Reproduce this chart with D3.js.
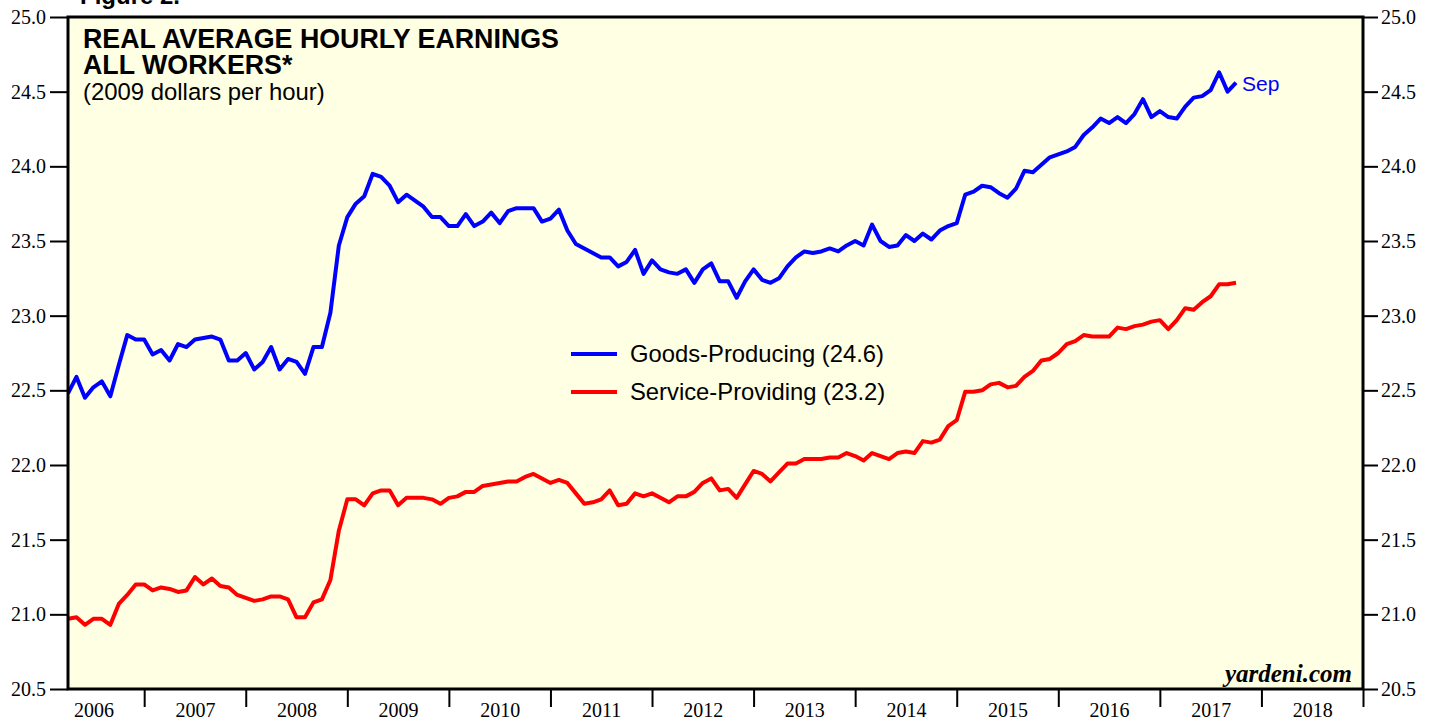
<!DOCTYPE html>
<html>
<head>
<meta charset="utf-8">
<script src="https://cdn.jsdelivr.net/npm/d3@7"></script>
<style>
  html, body { margin: 0; padding: 0; background: #ffffff; }
  svg { display: block; }
</style>
</head>
<body>
<svg id="chart" width="1441" height="721"></svg>
<script>
// ---------------- DATA ----------------
// Monthly series, first observation March 2006, last September 2017
const startYear = 2006;
const startMonth = 3; // March
const goodsProducing = [
  22.48, 22.59, 22.45, 22.52, 22.56, 22.46, 22.67, 22.87, 22.84, 22.84,
  22.74, 22.77, 22.70, 22.81, 22.79, 22.84, 22.85, 22.86, 22.84, 22.70,
  22.70, 22.75, 22.64, 22.69, 22.79, 22.64, 22.71, 22.69, 22.61, 22.79,
  22.79, 23.02, 23.47, 23.66, 23.75, 23.80, 23.95, 23.93, 23.87, 23.76,
  23.81, 23.77, 23.73, 23.66, 23.66, 23.60, 23.60, 23.68, 23.60, 23.63,
  23.69, 23.62, 23.70, 23.72, 23.72, 23.72, 23.63, 23.65, 23.71, 23.57,
  23.48, 23.45, 23.42, 23.39, 23.39, 23.33, 23.36, 23.44, 23.28, 23.37,
  23.31, 23.29, 23.28, 23.31, 23.22, 23.31, 23.35, 23.23, 23.23, 23.12,
  23.23, 23.31, 23.24, 23.22, 23.25, 23.33, 23.39, 23.43, 23.42, 23.43,
  23.45, 23.43, 23.47, 23.50, 23.47, 23.61, 23.50, 23.46, 23.47, 23.54,
  23.50, 23.55, 23.51, 23.57, 23.60, 23.62, 23.81, 23.83, 23.87, 23.86,
  23.82, 23.79, 23.85, 23.97, 23.96, 24.01, 24.06, 24.08, 24.10, 24.13,
  24.21, 24.26, 24.32, 24.29, 24.33, 24.29, 24.35, 24.45, 24.33, 24.37,
  24.33, 24.32, 24.40, 24.46, 24.47, 24.51, 24.63, 24.50, 24.56
];
const serviceProviding = [
  20.97, 20.98, 20.93, 20.97, 20.97, 20.93, 21.07, 21.13, 21.20, 21.20,
  21.16, 21.18, 21.17, 21.15, 21.16, 21.25, 21.20, 21.24, 21.19, 21.18,
  21.13, 21.11, 21.09, 21.10, 21.12, 21.12, 21.10, 20.98, 20.98, 21.08,
  21.10, 21.23, 21.56, 21.77, 21.77, 21.73, 21.81, 21.83, 21.83, 21.73,
  21.78, 21.78, 21.78, 21.77, 21.74, 21.78, 21.79, 21.82, 21.82, 21.86,
  21.87, 21.88, 21.89, 21.89, 21.92, 21.94, 21.91, 21.88, 21.90, 21.88,
  21.81, 21.74, 21.75, 21.77, 21.83, 21.73, 21.74, 21.81, 21.79, 21.81,
  21.78, 21.75, 21.79, 21.79, 21.82, 21.88, 21.91, 21.83, 21.84, 21.78,
  21.87, 21.96, 21.94, 21.89, 21.95, 22.01, 22.01, 22.04, 22.04, 22.04,
  22.05, 22.05, 22.08, 22.06, 22.03, 22.08, 22.06, 22.04, 22.08, 22.09,
  22.08, 22.16, 22.15, 22.17, 22.26, 22.30, 22.49, 22.49, 22.50, 22.54,
  22.55, 22.52, 22.53, 22.59, 22.63, 22.70, 22.71, 22.75, 22.81, 22.83,
  22.87, 22.86, 22.86, 22.86, 22.92, 22.91, 22.93, 22.94, 22.96, 22.97,
  22.91, 22.97, 23.05, 23.04, 23.09, 23.13, 23.21, 23.21, 23.22
];
const yTicks = [20.5, 21.0, 21.5, 22.0, 22.5, 23.0, 23.5, 24.0, 24.5, 25.0];
const yearBoundaries = [2007, 2008, 2009, 2010, 2011, 2012, 2013, 2014, 2015, 2016, 2017, 2018, 2019];
const yearLabels = [2006, 2007, 2008, 2009, 2010, 2011, 2012, 2013, 2014, 2015, 2016, 2017, 2018];
const legendLabels = ["Goods-Producing (24.6)", "Service-Providing (23.2)"];
const seriesColors = ["#0000ff", "#ff0000"];
const titleLines = ["REAL AVERAGE HOURLY EARNINGS", "ALL WORKERS*"];
const subtitle = "(2009 dollars per hour)";
const lastLabel = "Sep";

// ---------------- LAYOUT ----------------
const L = 68, R = 1363, T = 17, B = 689;
const svg = d3.select("#chart");
const serif = "'Liberation Serif','Times New Roman',Times,serif";
const sans = "'Liberation Sans',Arial,Helvetica,sans-serif";

const x = d3.scaleLinear().domain([2006.25, 2019]).range([L, R]);
const y = d3.scaleLinear().domain([20.5, 25.0]).range([B, T]);

const dateOf = i => startYear + (startMonth + i) / 12;

// figure caption (cut off at top, as in the source)
svg.append("text").attr("x", 80).attr("y", 4)
  .attr("font-family", sans).attr("font-weight", "bold").attr("font-size", 24)
  .text("Figure 2.");

// plot background
svg.append("rect").attr("x", L).attr("y", T).attr("width", R - L).attr("height", B - T)
  .attr("fill", "#ffffe4");

svg.append("clipPath").attr("id", "clip").append("rect")
  .attr("x", L).attr("y", T).attr("width", R - L).attr("height", B - T);

// axes
const axisStyle = g => {
  g.select(".domain").remove();
  g.selectAll(".tick line").attr("stroke", "#000").attr("stroke-width", 2);
  g.selectAll(".tick text").attr("font-family", serif).attr("font-size", 20).attr("fill", "#000");
};
svg.append("g").attr("transform", `translate(${L},0)`)
  .call(d3.axisLeft(y).tickValues(yTicks).tickSize(18).tickPadding(4).tickFormat(d3.format(".1f")))
  .call(axisStyle);
svg.append("g").attr("transform", `translate(${R},0)`)
  .call(d3.axisRight(y).tickValues(yTicks).tickSize(15).tickPadding(3).tickFormat(d3.format(".1f")))
  .call(axisStyle);
svg.append("g").attr("transform", `translate(0,${B})`)
  .call(d3.axisBottom(x).tickValues(yearBoundaries).tickSize(18).tickFormat(""))
  .call(axisStyle);
svg.append("g").attr("transform", `translate(0,${B})`)
  .call(d3.axisBottom(x).tickValues(yearLabels.map(d => d + 0.5)).tickSize(0).tickPadding(14)
    .tickFormat(d => String(Math.floor(d))))
  .call(axisStyle);

// lines
const line = d3.line().x((d, i) => x(dateOf(i))).y(d => y(d)).curve(d3.curveLinear);
const plot = svg.append("g").attr("clip-path", "url(#clip)");
[[serviceProviding, seriesColors[1]], [goodsProducing, seriesColors[0]]].forEach(([s, c]) => {
  plot.append("path").datum(s)
    .attr("fill", "none")
    .attr("stroke", c)
    .attr("stroke-width", 4)
    .attr("stroke-linejoin", "round")
    .attr("d", line);
});

// frame
svg.append("rect").attr("x", L).attr("y", T).attr("width", R - L).attr("height", B - T)
  .attr("fill", "none").attr("stroke", "#000").attr("stroke-width", 3);

// title
svg.append("text").attr("x", 83).attr("y", 48)
  .attr("font-family", sans).attr("font-weight", "bold").attr("font-size", 26.8)
  .text(titleLines[0]);
svg.append("text").attr("x", 83).attr("y", 74)
  .attr("font-family", sans).attr("font-weight", "bold").attr("font-size", 26.8)
  .text(titleLines[1]);
svg.append("text").attr("x", 83).attr("y", 100)
  .attr("font-family", sans).attr("font-size", 23.9)
  .text(subtitle);

// legend
const legendY = [354, 392];
legendLabels.forEach((lab, k) => {
  svg.append("line").attr("x1", 571).attr("x2", 617)
    .attr("y1", legendY[k]).attr("y2", legendY[k])
    .attr("stroke", seriesColors[k]).attr("stroke-width", 4);
  svg.append("text").attr("x", 630).attr("y", legendY[k] + 8)
    .attr("font-family", sans).attr("font-size", 23.8).attr("fill", "#000")
    .text(lab);
});

// last value label
const lastI = goodsProducing.length - 1;
svg.append("text").attr("x", x(dateOf(lastI)) + 6).attr("y", y(goodsProducing[lastI]) + 8)
  .attr("font-family", sans).attr("font-size", 21).attr("fill", "#0000ff")
  .text(lastLabel);

// watermark
svg.append("text").attr("x", 1352).attr("y", 682).attr("text-anchor", "end")
  .attr("font-family", serif).attr("font-weight", "bold").attr("font-style", "italic")
  .attr("font-size", 25).attr("fill", "#000")
  .text("yardeni.com");
</script>
</body>
</html>
